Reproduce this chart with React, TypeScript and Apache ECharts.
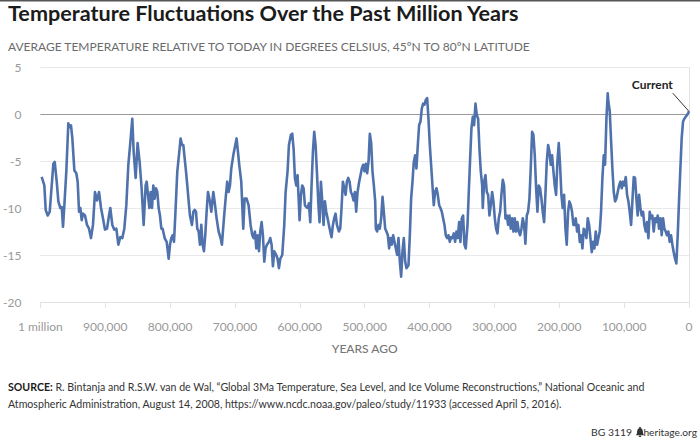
import React, { useEffect, useRef } from "react";
import * as echarts from "echarts";

// Years ago (thousands) and temperature relative to today (°C)
const yearsAgoK = [
  998, 993.9, 991.8, 988.7, 985.6, 982.5, 980, 977.9, 974.8, 972.3, 969.2, 967.1, 965.1, 963, 960, 956.9, 954.8, 952.8, 950.7, 947.6,
  944.6, 942.5, 940.4, 938.4, 936.3, 934.3, 931.2, 928.1, 925, 922, 918.9, 915.8, 912.7, 909.6, 906.5, 903.5, 900.4, 897.3, 894.2, 892.2,
  889.1, 886, 882.9, 879.8, 876.8, 873.7, 870.6, 867.5, 864.4, 861.4, 858.3, 856.2, 853.1, 850.1, 847, 843.9, 840.8, 837.7,
  836.1, 834.1, 832, 830, 827.9, 825.9, 823.8, 821.8, 819.7, 817.7, 815.6, 813.5, 811.5, 808.4, 805.3, 802.2, 800.2, 798.1, 796.1, 794,
  792, 788.9, 785.8, 783.8, 781.7, 779.6, 777.6, 775.5, 773.5, 771.4, 769.4, 766.3, 764.2, 762.2, 760.1, 758.1, 756, 754, 751.9, 749.9,
  747.8, 745.8, 743.7, 741.6, 738.6, 736.5, 733.4, 731.4, 728.3, 725.2, 722.1, 720.1, 717, 713.9, 711.9, 709.8, 707.7, 705.7, 702.6, 699.5,
  697.5, 695.4, 693.4, 690.3, 687.2, 685.2, 682.1, 679, 675.9,
  673.3, 671.2, 669.2, 667.1, 665.1, 663, 661, 658.9, 656.9, 654.8, 652.8, 650.7, 647.6, 645.6, 643.5, 641.5, 639.4, 636.3, 634.3, 632.2,
  630.2, 627.1, 624, 621.9, 618.9, 616.8, 613.7, 611.7, 609.6, 607.6, 605.5, 603.5, 601.4, 600.4, 598.3, 596.3, 594.2, 592.2, 590.1, 588,
  586, 583.9, 581.9, 579.8, 577.8, 575.7, 573.7, 571.6, 569.6, 567.5, 565.4, 563.4, 561.3, 559.3, 557.2, 555.2, 553.1, 551.1, 549, 547,
  544.9, 542.8, 539.8, 537.7, 535.7, 533.6, 531.5, 529.5, 527.4, 525.4, 523.3, 521.3, 519.2, 517.2, 515.1, 513.1, 511,
  508.5, 506.4, 504.4, 502.3, 500.3, 498.2, 496.2, 494.1, 492.1, 490, 488, 485.9, 483.8, 482.8, 480.8, 478.7, 476.7, 474.6, 472.5, 470.5,
  468.4, 466.4, 464.3, 462.3, 460.2, 458.2, 456.1, 454.1, 452, 449.9, 447.9, 445.8, 443.8, 441.7, 439.7, 437.6, 435.6, 432.5, 430.4, 428.4,
  426.3, 424.3, 422.2, 420.2, 418.1, 416.1, 414, 411.9, 409.9, 407.8, 405.8, 403.7, 401.7, 399.6, 397.6, 395.5, 393.5, 391.4, 389.3, 387.3,
  385.2, 383.2, 381.1, 379.1, 377, 375, 372.9, 370.9, 368.8, 366.7, 364.7, 362.6, 360.6, 358.5, 356.5, 354.4, 352.4, 350.3, 348.3, 346.2, 344.2,
  341.5, 339.5, 337.4, 335.4, 333.3, 331.3, 329.2, 327.2, 325.1, 323.1, 321, 318.9, 317.9, 315.9, 313.8, 311.8, 309.7, 307.7, 305.6, 303.5,
  301.5, 299.4, 297.4, 295.3, 293.3, 291.2, 289.2, 287.1, 285.1, 283, 280.9, 278.9, 276.8, 274.8, 272.7, 270.7, 268.6, 266.6, 264.5, 262.4,
  260.4, 258.3, 256.3, 254.2, 252.2, 250.1, 248.1, 246, 244, 241.9, 239.9, 237.8, 235.7, 233.7, 231.6, 229.6, 227.5, 225.5, 223.4, 221.4,
  219.3, 217.2, 215.2, 213.1, 211.1, 209, 207, 204.9, 202.9, 200.8, 198.8, 196.7, 194.7, 192.6, 190.5, 188.5, 186.4, 184.4, 182.3, 180.3, 178.2,
  176.6, 174.6, 172.5, 170.5, 168.4, 166.4, 164.3, 162.3, 160.2, 158.2, 156.1, 154, 152, 149.9, 147.9, 145.8, 143.8, 141.7, 139.7, 137.6,
  135.6, 133.5, 131.4, 129.4, 127.3, 125.3, 124.3, 122.2, 120.1, 118.1, 116, 114, 111.9, 109.9, 107.8, 105.8, 103.7, 101.7, 99.6, 97.5,
  95.5, 93.4, 91.4, 89.3, 87.3, 85.2, 83.2, 81.1, 79.1, 77, 74.9, 72.9, 70.8, 68.8, 66.7, 64.7, 62.6, 60.6, 58.5, 56.5,
  54.4, 52.3, 50.3, 48.2, 46.2, 44.1, 42.1, 40, 38, 35.9, 33.9, 31.8, 29.8, 27.7, 25.6, 23.6, 21.5, 19.5, 17.4, 15.4,
  13.3, 11.3, 9.2, 7.2, 5.1, 3.1, 1.0, 0.3,
];

const temperatureC = [
  -6.7, -7.6, -10.2, -10.8, -10.4, -7.6, -5.3, -5.1, -7.2, -9.3, -10.0, -9.9, -12.0, -9.7, -6.1, -1.0, -1.4, -1.2, -2.6, -6.0,
  -6.3, -7.2, -10.4, -10.0, -11.3, -10.6, -10.8, -11.8, -12.2, -13.2, -11.8, -8.3, -9.2, -8.3, -10.0, -11.1, -12.3, -12.2, -10.8, -10.0,
  -11.8, -12.3, -12.2, -13.9, -13.1, -13.2, -12.2, -9.7, -5.4, -3.1, -0.5, -4.0, -6.8, -3.1, -5.1, -7.9, -11.8, -7.6,
  -7.2, -8.6, -10.0, -8.3, -10.0, -7.6, -9.0, -7.9, -8.3, -10.0, -10.8, -12.2, -12.2, -13.2, -13.6, -15.4, -13.9, -13.2, -12.9, -13.6,
  -10.8, -6.1, -4.0, -2.6, -3.3, -3.3, -4.7, -6.1, -7.6, -9.3, -10.8, -11.8, -10.4, -10.2, -10.4, -12.2, -12.5, -13.9, -11.8, -13.9,
  -14.6, -12.9, -10.4, -8.3, -9.3, -10.4, -8.3, -9.3, -11.1, -12.5, -13.2, -13.9, -11.1, -8.6, -7.2, -8.3, -7.6, -5.8, -4.4, -3.3,
  -2.6, -4.0, -5.4, -7.2, -12.2, -9.0, -9.0, -9.7, -11.8,
  -12.9, -13.2, -12.5, -14.3, -12.9, -14.6, -12.5, -11.5, -12.9, -15.7, -14.3, -13.9, -13.6, -13.2, -13.9, -16.2, -14.6, -15.0, -15.4, -16.4,
  -15.4, -15.0, -11.8, -8.3, -6.1, -3.3, -2.2, -2.1, -3.7, -6.8, -7.6, -6.5, -9.7, -11.3, -8.6, -7.6, -7.9, -9.7, -9.9, -10.0,
  -9.5, -11.5, -7.6, -4.0, -1.9, -3.3, -6.1, -9.3, -11.5, -7.2, -9.3, -11.8, -9.3, -10.4, -11.1, -11.8, -12.5, -13.1, -11.8, -11.1,
  -10.6, -11.8, -12.5, -12.2, -10.0, -7.2, -7.9, -8.6, -7.2, -6.8, -7.2, -8.3, -8.6, -9.2, -8.3, -10.4, -8.3,
  -7.2, -6.5, -5.8, -5.4, -6.1, -5.3, -6.3, -5.1, -2.1, -3.1, -6.1, -7.6, -9.3, -12.2, -12.5, -11.8, -12.2, -11.1, -8.8, -10.4,
  -12.2, -12.5, -12.9, -14.3, -13.2, -13.9, -12.9, -13.6, -14.3, -15.0, -13.2, -15.7, -17.3, -14.6, -13.2, -15.7, -16.4, -16.1, -12.9, -9.0,
  -7.2, -5.1, -4.4, -5.8, -3.3, -1.2, -0.8, 0.6, 1.1, 1.0, 1.5, 1.7, -0.5, -3.3, -5.4, -7.6, -9.7, -8.3, -7.9, -8.6,
  -9.7, -10.0, -10.4, -11.1, -11.8, -12.9, -13.2, -12.9, -13.6, -13.1, -13.2, -12.7, -13.6, -12.5, -13.2, -11.5, -13.6, -11.1, -10.8, -13.9, -14.3,
  -11.8, -8.3, -4.7, -1.5, -0.3, -1.2, 1.1, -0.1, -0.5, -3.7, -6.1, -7.6, -10.0, -7.2, -6.5, -8.3, -8.6, -10.8, -9.7, -8.3,
  -9.3, -11.1, -12.2, -12.7, -11.1, -10.4, -8.6, -7.0, -7.6, -11.1, -10.8, -11.8, -10.8, -12.2, -11.1, -12.5, -11.1, -12.5, -11.5, -12.5,
  -12.9, -12.2, -11.1, -11.8, -13.8, -10.8, -10.4, -9.0, -5.8, -1.9, -2.2, -4.4, -7.9, -10.4, -7.6, -7.9, -9.0, -10.4, -11.5, -8.6,
  -5.1, -3.3, -4.0, -5.4, -4.4, -6.1, -7.6, -8.6, -5.1, -3.1, -5.4, -8.6, -10.0, -8.6, -12.2, -13.9, -10.4, -9.3, -9.7, -10.4, -11.8,
  -11.8, -11.1, -12.5, -11.8, -13.6, -12.9, -14.3, -12.2, -12.5, -13.2, -11.1, -11.8, -13.2, -14.7, -13.6, -14.3, -12.5, -13.9, -13.2, -12.5,
  -10.4, -6.8, -4.4, -5.4, -0.5, 2.2, 1.3, 0.3, -2.9, -5.8, -8.3, -9.3, -9.0, -8.3, -7.6, -7.2, -7.9, -7.2, -7.6, -6.7,
  -8.6, -9.3, -10.4, -11.8, -9.3, -6.7, -6.8, -9.0, -10.8, -8.6, -10.0, -10.8, -10.4, -11.8, -12.5, -11.5, -13.2, -10.4, -11.1, -10.8,
  -12.5, -11.1, -11.5, -10.8, -12.2, -11.1, -12.9, -11.1, -12.2, -12.5, -12.9, -12.5, -13.6, -12.9, -13.9, -14.7, -15.4, -15.9, -12.9, -9.3,
  -5.8, -2.6, -0.8, -0.5, -0.3, -0.1, 0.1, 0.3,
];

const xTickValues = [1000, 900, 800, 700, 600, 500, 400, 300, 200, 100, 0];
const xTickLabels = ["1 million", "900,000", "800,000", "700,000", "600,000", "500,000", "400,000", "300,000", "200,000", "100,000", "0"];
const yTickValues = [-20, -15, -10, -5, 0, 5];

const titleText = "Temperature Fluctuations Over the Past Million Years";
const subtitleText = "AVERAGE TEMPERATURE RELATIVE TO TODAY IN DEGREES CELSIUS, 45ºN TO 80ºN LATITUDE";
const sourceLine1 = "R. Bintanja and R.S.W. van de Wal, \u201cGlobal 3Ma Temperature, Sea Level, and Ice Volume Reconstructions,\u201d National Oceanic and";
const sourceLine2 = "Atmospheric Administration, August 14, 2008, https://www.ncdc.noaa.gov/paleo/study/11933 (accessed April 5, 2016).";

const BELL = "M4 0 L6 0 L6 1.2 C8.4 1.6 8.6 4 8.8 6.6 L10 8.6 L0 8.6 L1.2 6.6 C1.4 4 1.6 1.6 4 1.2 Z M3.6 9.2 L6.4 9.2 L6.4 10.4 L3.6 10.4 Z";
let bellRegistered = false;

export default function App() {
  const ref = useRef<HTMLDivElement>(null);
  useEffect(() => {
    if (!ref.current) return;
    if (!bellRegistered) {
      echarts.graphic.registerShape("bell", echarts.graphic.extendPath(BELL, {}));
      bellRegistered = true;
    }
    const chart = echarts.init(ref.current, null, { renderer: "svg" });
    const font = "Lato, 'Noto Sans', sans-serif";
    const data = yearsAgoK.map((y, i) => [y, temperatureC[i]]);
    const splitColors = yTickValues.map((v) => (v === 0 ? "#9a9a9a" : "#e9e9e9"));

    chart.setOption({
      animation: false,
      backgroundColor: "#ffffff",
      grid: { left: 40, right: 11, top: 67, bottom: 137, containLabel: false },
      xAxis: {
        type: "value",
        inverse: true,
        min: 0,
        max: 1000,
        interval: 100,
        name: "YEARS AGO",
        nameLocation: "middle",
        nameGap: 40,
        nameTextStyle: { color: "#777", fontSize: 12, fontFamily: font, fontWeight: 500 },
        axisLine: { show: true, onZero: false, lineStyle: { color: "#e3e3e3", width: 1 } },
        axisTick: { show: true, length: 6, lineStyle: { color: "#e3e3e3" } },
        splitLine: { show: false },
        axisLabel: {
          margin: 18,
          color: "#999",
          fontSize: 12,
          fontFamily: font,
          formatter: (v: number) => {
            const i = xTickValues.indexOf(v);
            return i >= 0 ? xTickLabels[i] : "";
          },
        },
      },
      yAxis: [
        {
          type: "value",
          min: -20,
          max: 5,
          interval: 5,
          position: "left",
          axisLine: { show: false, onZero: false },
          axisTick: { show: false },
          axisLabel: { margin: 19, color: "#999", fontSize: 12, fontFamily: font },
          splitLine: { show: true, lineStyle: { color: splitColors, width: 1 } },
        },
        {
          type: "value",
          min: -20,
          max: 5,
          interval: 5,
          position: "right",
          axisLine: { show: true, onZero: false, lineStyle: { color: "#e3e3e3", width: 1 } },
          axisTick: { show: false },
          axisLabel: { show: false },
          splitLine: { show: false },
        },
      ],
      series: [
        {
          type: "line",
          data,
          showSymbol: false,
          symbol: "none",
          smooth: false,
          lineStyle: { color: "#4f72ad", width: 2.6, join: "round" },
          z: 3,
        },
      ],
      graphic: [
        { type: "rect", id: "topbar", left: 0, top: 0, shape: { width: 700, height: 1.5 }, style: { fill: "#555" } },
        {
          type: "text",
          id: "title",
          x: 8,
          y: 2,
          style: { text: titleText, fill: "#1b1b1b", font: "bold 21.6px " + font, textVerticalAlign: "top" },
        },
        {
          type: "text",
          id: "subtitle",
          x: 8,
          y: 40,
          style: { text: subtitleText, fill: "#6b6b6b", font: "12px " + font, textVerticalAlign: "top" },
        },
        {
          type: "text",
          id: "src1",
          x: 8,
          y: 381,
          style: {
            text: "{b|SOURCE:} " + sourceLine1,
            fill: "#333",
            font: "10.6px " + font,
            rich: { b: { fontWeight: "bold", fontSize: 10.6, fontFamily: font, fill: "#1b1b1b" } },
          },
        },
        {
          type: "text",
          id: "src2",
          x: 8,
          y: 398,
          style: { text: sourceLine2, fill: "#333", font: "10.6px " + font },
        },
        {
          type: "text",
          id: "bg",
          x: 632,
          y: 427,
          style: { text: "BG 3119", fill: "#333", font: "10.4px " + font, textAlign: "right" },
        },
        { type: "bell", id: "bellicon", x: 636, y: 427, scaleX: 0.8, scaleY: 0.95, style: { fill: "#333" } },
        {
          type: "text",
          id: "hert",
          x: 697,
          y: 427,
          style: { text: "heritage.org", fill: "#333", font: "10.2px " + font, textAlign: "right" },
        },
      ],
    });

    const lastIdx = yearsAgoK.length - 1;
    const end = chart.convertToPixel({ xAxisIndex: 0, yAxisIndex: 0 }, [yearsAgoK[lastIdx], temperatureC[lastIdx]]) as number[];
    chart.setOption({
      graphic: [
        {
          type: "line",
          id: "curline",
          shape: { x1: end[0] - 16, y1: end[1] - 18, x2: end[0], y2: end[1] },
          style: { stroke: "#333", lineWidth: 1 },
          z: 10,
        },
        {
          type: "text",
          id: "curtext",
          x: end[0] - 16,
          y: end[1] - 21,
          style: { text: "Current", fill: "#222", font: "bold 12px " + font, textAlign: "right", textVerticalAlign: "bottom" },
          z: 10,
        },
      ],
    });

    return () => chart.dispose();
  }, []);
  return <div ref={ref} style={{ position: "fixed", left: 0, top: 0, width: 700, height: 439 }} />;
}
